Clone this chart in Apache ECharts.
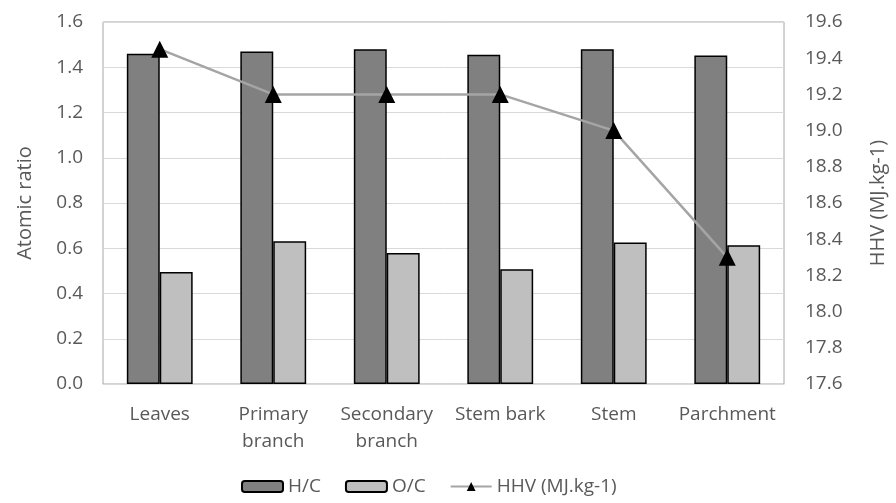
<!DOCTYPE html>
<html>
<head>
<meta charset="utf-8">
<script src="https://cdn.jsdelivr.net/npm/echarts@6/dist/echarts.min.js"></script>
<style>html,body{margin:0;padding:0;background:#fff}#c{width:896px;height:503px}</style>
</head>
<body>
<div id="c"></div>
<script>
const categories = ['Leaves', 'Primary\nbranch', 'Secondary\nbranch', 'Stem bark', 'Stem', 'Parchment'];
const hc = [1.46, 1.47, 1.48, 1.455, 1.48, 1.452];
const oc = [0.495, 0.631, 0.579, 0.507, 0.625, 0.613];
const hhv = [19.45, 19.2, 19.2, 19.2, 19.0, 18.3];

const font = 'Open Sans, Noto Sans, sans-serif';
const txt = '#595959';
const chart = echarts.init(document.getElementById('c'));
chart.setOption({
  animation: false,
  grid: {left: 103, right: 103, top: 22, bottom: 119, show: true, borderColor: '#a6a6a6', borderWidth: 1, backgroundColor: 'transparent'},
  legend: {
    bottom: 2, left: 236,
    itemWidth: 41, itemHeight: 11, itemGap: 24,
    textStyle: {fontSize: 19, color: txt, fontFamily: font},
    data: ['H/C', 'O/C', {name: 'HHV (MJ.kg-1)', itemStyle: {color: '#000'}}]
  },
  xAxis: {
    type: 'category', data: categories,
    axisLine: {lineStyle: {color: '#d9d9d9'}},
    axisTick: {show: false},
    axisLabel: {interval: 0, color: txt, fontSize: 19, fontFamily: font, lineHeight: 27, margin: 17}
  },
  yAxis: [{
    type: 'value', min: 0, max: 1.6, interval: 0.2,
    name: 'Atomic ratio', nameLocation: 'middle', nameRotate: 90, nameGap: 68,
    nameTextStyle: {fontSize: 20, color: txt, fontFamily: font},
    axisLine: {show: false}, axisTick: {show: false},
    axisLabel: {color: txt, fontSize: 19, fontFamily: font, margin: 20, formatter: v => v.toFixed(1)},
    splitLine: {lineStyle: {color: '#d9d9d9', width: 1}}
  }, {
    type: 'value', min: 17.6, max: 19.6, interval: 0.2,
    name: 'HHV (MJ.kg-1)', nameLocation: 'middle', nameRotate: 90, nameGap: 84,
    nameTextStyle: {fontSize: 20, color: txt, fontFamily: font},
    axisLine: {show: false}, axisTick: {show: false},
    axisLabel: {color: txt, fontSize: 19, fontFamily: font, margin: 21, formatter: v => v.toFixed(1)},
    splitLine: {show: false}
  }],
  series: [{
    name: 'H/C', type: 'bar', data: hc, barGap: '0%', barCategoryGap: '42%',
    itemStyle: {color: '#808080', borderColor: '#000', borderWidth: 1.5}
  }, {
    name: 'O/C', type: 'bar', data: oc,
    itemStyle: {color: '#bfbfbf', borderColor: '#000', borderWidth: 1.5}
  }, {
    name: 'HHV (MJ.kg-1)', type: 'line', yAxisIndex: 1, data: hhv,
    symbol: 'triangle', symbolSize: 17,
    lineStyle: {color: '#a5a5a5', width: 2.5},
    itemStyle: {color: '#000'}
  }]
});
</script>
</body>
</html>
